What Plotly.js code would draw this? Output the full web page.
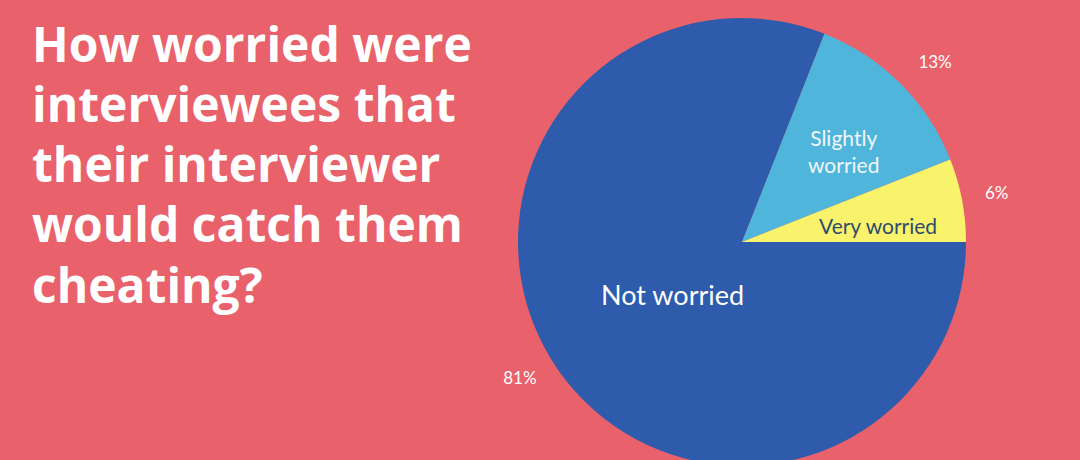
<!DOCTYPE html>
<html>
<head>
<meta charset="utf-8">
<script src="https://cdn.plot.ly/plotly-3.0.1.min.js"></script>
<style>
  html, body { margin: 0; padding: 0; overflow: hidden; background: #E9626B; }
  #chart { width: 1080px; height: 500px; margin-top: -20px; }
</style>
</head>
<body>
<div id="chart"></div>
<script>
// Data
const categories = ["Not worried", "Slightly worried", "Very worried"];
const sliceText = ["Not worried", "Slightly<br>worried", "Very worried"];
const values = [81, 13, 6];
const titleLines = [
  "How worried were",
  "interviewees that",
  "their interviewer",
  "would catch them",
  "cheating?"
];

// Styling
const W = 1080, H = 500, OFF = 20;   // plot is shifted up by OFF px in the page
const colors = ["#2E5BAC", "#4FB5DA", "#F8F36B"];
const textColors = ["#FFFFFF", "#F2F6FA", "#2F4B6E"];
const labelSizes = [27, 21, 21];
const labelRadius = [0.39, 0.61, 0.61];   // fraction of pie radius
const labelAngleShift = [3, -3, -4];      // degrees

const CX = 742, CY = 242 + OFF, R = 224, RP = 246;
const ROT = 90; // first slice starts at 3 o'clock
const pieDomain = { x: [(CX - R) / W, (CX + R) / W], y: [1 - (CY + R) / H, 1 - (CY - R) / H] };
const pctDomain = { x: [(CX - RP) / W, (CX + RP) / W], y: [1 - (CY + RP) / H, 1 - (CY - RP) / H] };

const tracePie = {
  type: "pie",
  labels: categories,
  values: values,
  textinfo: "none",
  sort: false,
  direction: "clockwise",
  rotation: ROT,
  marker: { colors: colors, line: { width: 0 } },
  domain: pieDomain,
  hoverinfo: "none",
  showlegend: false
};

const tracePercent = {
  type: "pie",
  labels: categories,
  values: values,
  texttemplate: "%{value}%",
  textposition: "outside",
  sort: false,
  direction: "clockwise",
  rotation: ROT,
  marker: { colors: ["rgba(0,0,0,0)", "rgba(0,0,0,0)", "rgba(0,0,0,0)"], line: { width: 0 } },
  textfont: { family: "Lato", size: 17, color: "#FFFFFF" },
  outsidetextfont: { family: "Lato", size: 17, color: "#FFFFFF" },
  domain: pctDomain,
  hoverinfo: "none",
  showlegend: false
};

const titleAnnotations = titleLines.map((line, i) => ({
  text: line,
  xref: "paper", yref: "paper",
  x: 30 / W, xanchor: "left",
  y: 1 - (43 + OFF + 60.3 * i) / H, yanchor: "middle",
  showarrow: false,
  font: { family: "Open Sans", size: 48, weight: 700, color: "#FFFFFF" }
}));

// Inside labels placed at each slice's mid-angle (derived from the values)
const total = values.reduce((a, b) => a + b, 0);
let cum = 0;
const sliceAnnotations = values.map((v, i) => {
  const midFrac = (cum + v / 2) / total;
  cum += v;
  // clockwise from 3 o'clock, in math degrees
  const ang = (90 - ROT) - midFrac * 360 + labelAngleShift[i];
  const rad = ang * Math.PI / 180;
  const px = CX + labelRadius[i] * R * Math.cos(rad);
  const py = CY - labelRadius[i] * R * Math.sin(rad);
  return {
    text: sliceText[i],
    xref: "paper", yref: "paper",
    x: px / W, y: 1 - py / H,
    xanchor: "center", yanchor: "middle",
    showarrow: false,
    font: { family: "Lato", size: labelSizes[i], color: textColors[i] }
  };
});

const layout = {
  width: W, height: H,
  margin: { l: 0, r: 0, t: 0, b: 0 },
  paper_bgcolor: "#E9626B",
  plot_bgcolor: "#E9626B",
  showlegend: false,
  annotations: titleAnnotations.concat(sliceAnnotations)
};

Plotly.newPlot("chart", [tracePie, tracePercent], layout, { displayModeBar: false, staticPlot: true });
</script>
</body>
</html>
